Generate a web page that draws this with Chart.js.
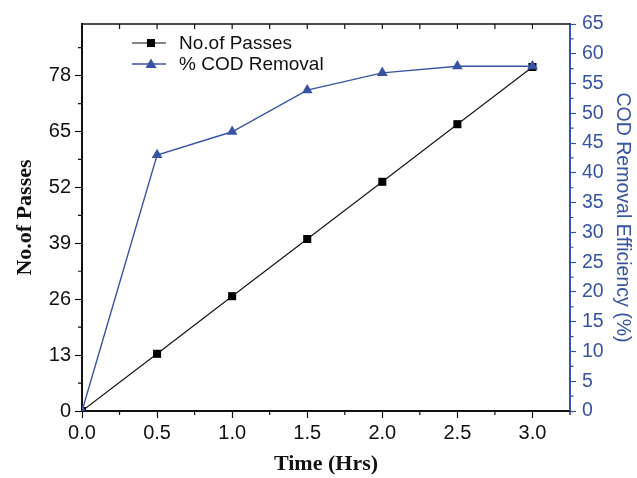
<!DOCTYPE html>
<html>
<head>
<meta charset="utf-8">
<script src="https://cdn.jsdelivr.net/npm/chart.js@4.4.1/dist/chart.umd.min.js"></script>
<style>
  html, body { margin: 0; padding: 0; background: #fff; }
  #wrap { width: 637px; height: 478px; }
</style>
</head>
<body>
<div id="wrap"><canvas id="myChart" width="637" height="478"></canvas></div>
<script>
// DATA
const times = [0, 0.5, 1.0, 1.5, 2.0, 2.5, 3.0];
const passes = [0, 13.3, 26.7, 40, 53.3, 66.7, 80];
const codRemoval = [0, 43, 46.9, 53.9, 56.8, 57.9, 57.9];
const seriesNames = ["No.of Passes", "% COD Removal"];

// tick labels
const timeTicks = [0, 0.5, 1.0, 1.5, 2.0, 2.5, 3.0];
const passTicks = [0, 13, 26, 39, 52, 65, 78];
const codTicks = [0, 5, 10, 15, 20, 25, 30, 35, 40, 45, 50, 55, 60, 65];

const BLUE = '#3953a4';
const BLACK = '#111';
const SANS = '"Liberation Sans", Arial, sans-serif';
const SERIF = '"Liberation Serif", "Times New Roman", serif';

const asTicks = arr => arr.map(v => ({ value: v }));

// minor ticks + top frame + legend
const extras = {
  id: 'extras',
  afterDraw(chart) {
    const c = chart.ctx;
    const { x, y, y1 } = chart.scales;
    const area = chart.chartArea;
    c.save();
    c.lineWidth = 1.2;

    // minor ticks on x (outward) and inward ticks on top frame
    c.strokeStyle = BLACK;
    c.beginPath();
    for (let i = 0; i < timeTicks.length; i++) {
      const px = x.getPixelForValue(timeTicks[i] + 0.25);
      c.moveTo(px, area.bottom); c.lineTo(px, area.bottom + 4);
    }
    for (let v = 0.25; v < 3.25; v += 0.25) {
      const px = x.getPixelForValue(v);
      c.moveTo(px, area.top); c.lineTo(px, area.top + 5);
    }
    // minor ticks on left axis
    for (let i = 0; i < passTicks.length; i++) {
      const py = y.getPixelForValue(passTicks[i] + 6.5);
      c.moveTo(area.left, py); c.lineTo(area.left - 4, py);
    }
    c.stroke();

    // top frame
    c.lineWidth = 1.6;
    c.beginPath();
    c.moveTo(area.left - 1, area.top); c.lineTo(area.right, area.top);
    c.stroke();

    // minor ticks on right axis
    c.strokeStyle = BLUE;
    c.lineWidth = 1.2;
    c.beginPath();
    for (let i = 0; i < codTicks.length - 1; i++) {
      const py = y1.getPixelForValue(codTicks[i] + 2.5);
      c.moveTo(area.right, py); c.lineTo(area.right + 3.5, py);
    }
    c.stroke();

    // legend
    const rows = [
      { name: seriesNames[0], ds: chart.data.datasets[0], yy: 43 },
      { name: seriesNames[1], ds: chart.data.datasets[1], yy: 64 }
    ];
    c.font = '19px ' + SANS;
    c.textBaseline = 'middle';
    c.textAlign = 'left';
    rows.forEach(r => {
      c.strokeStyle = r.ds.borderColor;
      c.lineWidth = r.ds.borderWidth;
      c.beginPath();
      c.moveTo(132, r.yy); c.lineTo(166, r.yy);
      c.stroke();
      c.fillStyle = r.ds.backgroundColor;
      const mx = 151;
      if (r.ds.pointStyle === 'rect') {
        c.fillRect(mx - 4, r.yy - 4, 8, 8);
      } else {
        c.beginPath();
        c.moveTo(mx, r.yy - 5.5);
        c.lineTo(mx + 5.5, r.yy + 4);
        c.lineTo(mx - 5.5, r.yy + 4);
        c.closePath();
        c.fill();
      }
      c.fillStyle = BLACK;
      c.fillText(r.name, 179, r.yy + 1);
    });
    c.restore();
  }
};

const ctx = document.getElementById('myChart').getContext('2d');

const chart = new Chart(ctx, {
  type: 'line',
  data: {
    datasets: [{
      label: seriesNames[0],
      data: times.map((t, i) => ({ x: t, y: passes[i] })),
      yAxisID: 'y',
      order: 1,
      borderColor: BLACK,
      backgroundColor: '#000',
      borderWidth: 1.1,
      pointStyle: 'rect',
      pointRadius: 5.7,
      pointBorderWidth: 0,
      tension: 0
    },
    {
      label: seriesNames[1],
      data: times.map((t, i) => ({ x: t, y: codRemoval[i] })),
      yAxisID: 'y1',
      order: 0,
      borderColor: BLUE,
      backgroundColor: BLUE,
      borderWidth: 1.4,
      pointStyle: 'triangle',
      pointRadius: 6.2,
      pointBorderWidth: 0,
      tension: 0
    }]
  },
  options: {
    responsive: false,
    animation: false,
    layout: { padding: { top: 24, left: 0, right: 0, bottom: 0 } },
    plugins: { legend: { display: false }, tooltip: { enabled: false } },
    scales: {
      x: {
        type: 'linear',
        min: 0, max: 3.25,
        afterBuildTicks: s => { s.ticks = asTicks(timeTicks); },
        afterFit: s => { s.height = 67; },
        ticks: {
          callback: v => Number(v).toFixed(1),
          color: BLACK, font: { family: SANS, size: 20 },
          padding: 3, maxRotation: 0, autoSkip: false
        },
        grid: { drawOnChartArea: false, color: BLACK, tickLength: 7, tickWidth: 1.2 },
        border: { color: BLACK, width: 2 },
        title: {
          display: true, text: 'Time (Hrs)', color: BLACK,
          font: { family: SERIF, size: 22, weight: 'bold' },
          padding: { top: 0, bottom: 0 }
        }
      },
      y: {
        type: 'linear',
        position: 'left',
        min: 0, max: 90,
        afterBuildTicks: s => { s.ticks = asTicks(passTicks); },
        afterFit: s => { s.width = 82; },
        ticks: { color: BLACK, font: { family: SANS, size: 20 }, padding: 4, autoSkip: false },
        grid: { drawOnChartArea: false, color: BLACK, tickLength: 7, tickWidth: 1.2 },
        border: { color: BLACK, width: 2 },
        title: {
          display: true, text: 'No.of Passes', color: BLACK,
          font: { family: SERIF, size: 22, weight: 'bold' },
          padding: { top: 12, bottom: 0 }
        }
      },
      y1: {
        type: 'linear',
        position: 'right',
        min: 0, max: 65,
        afterBuildTicks: s => { s.ticks = asTicks(codTicks); },
        afterFit: s => { s.width = 67; },
        ticks: { color: BLUE, font: { family: SANS, size: 19.5 }, padding: 6, autoSkip: false },
        grid: { drawOnChartArea: false, color: BLUE, tickLength: 6, tickWidth: 1.2 },
        border: { color: BLUE, width: 2 },
        title: {
          display: true, text: 'COD Removal Efficiency (%)', color: BLUE,
          font: { family: SANS, size: 19.5 },
          padding: { top: 3, bottom: 0 }
        }
      }
    }
  },
  plugins: [extras]
});
</script>
</body>
</html>
